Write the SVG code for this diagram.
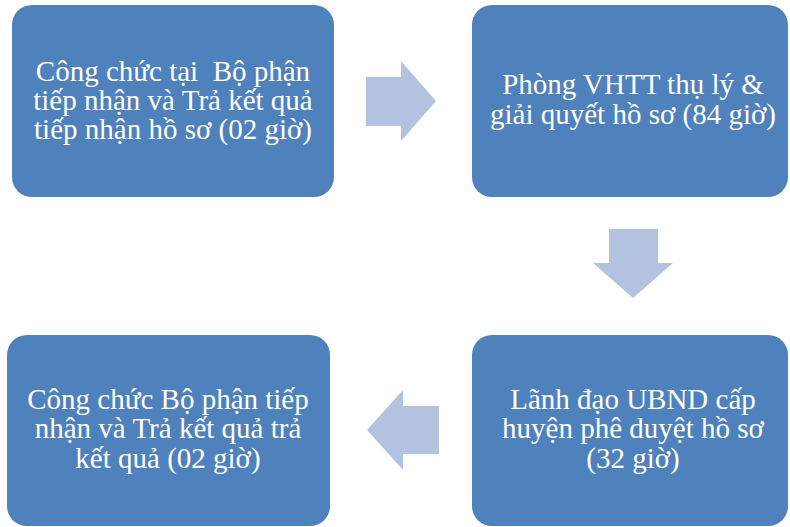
<svg xmlns="http://www.w3.org/2000/svg" width="790" height="527" viewBox="0 0 790 527">
<style>
.box{fill:#4F81BD;}
.arr{fill:#B3C3DF;}
.t{font-family:"Liberation Serif","Times New Roman",serif;font-size:29px;fill:#FFFFFF;text-anchor:middle;}
</style>
<rect width="790" height="527" fill="#FFFFFF"/>
<g id="connectors">
<polygon class="arr" points="366,77 401,77 401,61 436,101 401,141 401,126 366,126"/>
<polygon class="arr" points="609,229 658,229 658,263 673,263 633,298 593,263 609,263"/>
<polygon class="arr" points="439,406 403,406 403,390 367,430 403,470 403,454 439,454"/>
</g>
<g id="node1">
<rect class="box" x="12" y="5" width="322" height="192" rx="20"/>
<text class="t" x="173" y="81" xml:space="preserve">Công chức tại  Bộ phận</text>
<text class="t" x="173" y="110">tiếp nhận và Trả kết quả</text>
<text class="t" x="173" y="139">tiếp nhận hồ sơ (02 giờ)</text>
</g>
<g id="node2">
<rect class="box" x="472" y="5" width="316" height="192" rx="20"/>
<text class="t" x="633" y="94">Phòng VHTT thụ lý &amp;</text>
<text class="t" x="633" y="124">giải quyết hồ sơ (84 giờ)</text>
</g>
<g id="node3">
<rect class="box" x="472" y="335" width="316" height="191" rx="20"/>
<text class="t" x="633" y="409">Lãnh đạo UBND cấp</text>
<text class="t" x="633" y="438">huyện phê duyệt hồ sơ</text>
<text class="t" x="633" y="468">(32 giờ)</text>
</g>
<g id="node4">
<rect class="box" x="7" y="335" width="323" height="191" rx="20"/>
<text class="t" x="168" y="409">Công chức Bộ phận tiếp</text>
<text class="t" x="168" y="438">nhận và Trả kết quả trả</text>
<text class="t" x="168" y="468">kết quả (02 giờ)</text>
</g>
</svg>
